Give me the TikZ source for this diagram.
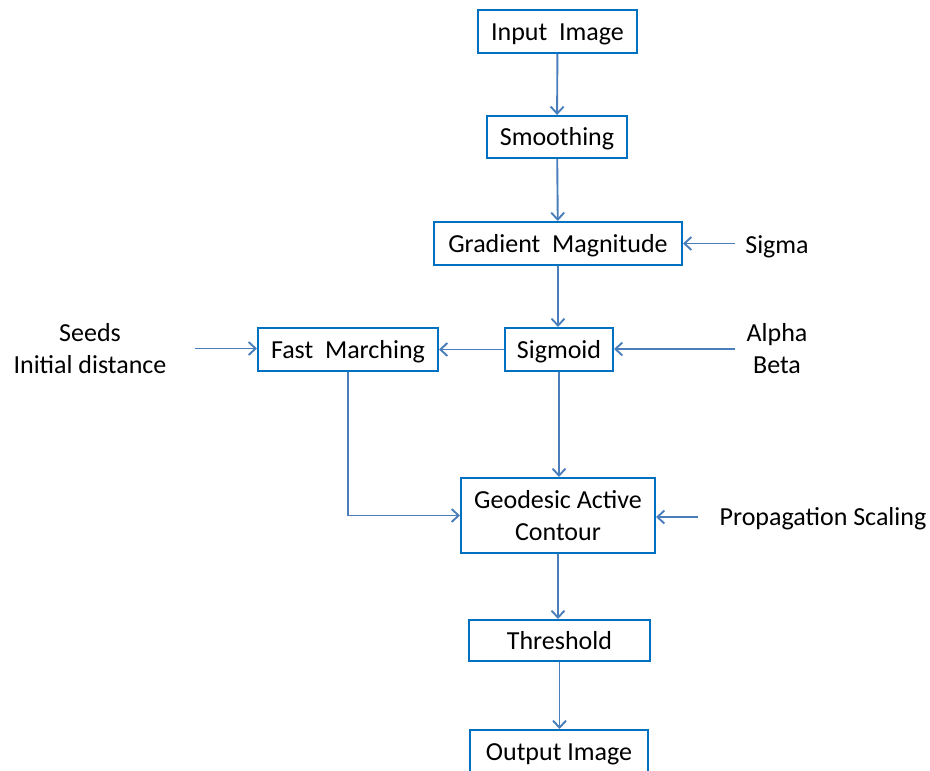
\documentclass[tikz,border=0pt]{standalone}
\usepackage{fontspec}
\setmainfont{Carlito}
\usetikzlibrary{arrows.meta}
\definecolor{boxblue}{RGB}{0,112,192}
\definecolor{arrblue}{RGB}{74,126,187}
\begin{document}
\begin{tikzpicture}[x=1pt,y=-1pt,
  every node/.style={font=\fontsize{26}{32}\selectfont, text=black},
  stepbox/.style={draw=boxblue, line width=2pt, inner sep=0pt, align=center},
  onebox/.style={stepbox, text height=24pt, text depth=7pt},
  lbl/.style={align=center, inner sep=0pt},
  arr/.style={draw=arrblue, line width=1.9pt, -{Straight Barb[length=7pt,width=13pt,line width=1.9pt]}}]
\useasboundingbox (0,0) rectangle (930,771);
\clip (0,0) rectangle (930,771);
\node[onebox, minimum width=159pt, minimum height=43pt] (in) at (557.5,31.5) {Input\ \ Image};
\node[onebox, minimum width=140pt, minimum height=42pt] (sm) at (557,137) {Smoothing};
\node[onebox, minimum width=248pt, minimum height=43pt] (gm) at (558,243.5) {Gradient\ \ Magnitude};
\node[onebox, minimum width=108pt, minimum height=43pt] (sg) at (559,349.5) {Sigmoid};
\node[onebox, minimum width=180pt, minimum height=43pt] (fm) at (348,349.5) {Fast\ \ Marching};
\node[stepbox, minimum width=194pt, minimum height=75pt] (gac) at (558,515.5) {\raisebox{-1pt}{\parbox{190pt}{\centering Geodesic Active\\Contour}}};
\node[onebox, minimum width=181pt, minimum height=41pt] (th) at (559.5,640.5) {Threshold};
\node[onebox, minimum width=178pt, minimum height=43pt, anchor=north] (out) at (559,729) {Output Image};
\node[lbl] (sigma) at (777,247) {Sigma};
\node[lbl] (ab) at (777,349) {Alpha\\Beta};
\node[lbl] (seeds) at (90,349) {Seeds\\Initial distance};
\node[lbl] (prop) at (823,519) {Propagation Scaling};
\coordinate (c1) at (735,243.5);
\coordinate (c2) at (735,349);
\coordinate (c3) at (195,348.5);
\coordinate (c4) at (698,517);
\draw[arr] (in) -- (sm);
\draw[arr] (sm) -- (gm);
\draw[arr] (c1) -- (c1 -| gm.east);
\draw[arr] (gm) -- (gm.south |- sg.north);
\draw[arr] (c2) -- (c2 -| sg.east);
\draw[arr] (sg) -- (fm);
\draw[arr] (c3) -- (c3 -| fm.west);
\draw[arr] (sg) -- (sg.south |- gac.north);
\draw[arr] (fm.south) |- (gac.west);
\draw[arr] (c4) -- (c4 -| gac.east);
\draw[arr] (gac) -- (gac.south |- th.north);
\draw[arr] (th) -- (th.south |- out.north);
\end{tikzpicture}
\end{document}
